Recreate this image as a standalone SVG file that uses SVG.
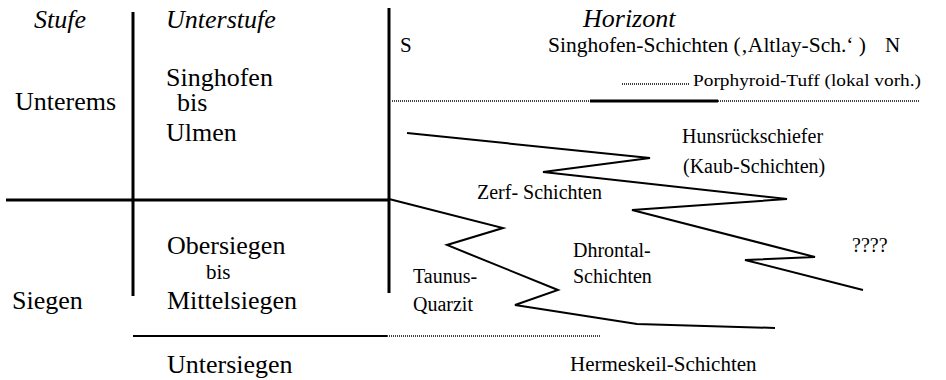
<svg xmlns="http://www.w3.org/2000/svg" width="946" height="380" viewBox="0 0 946 380">
<style>
text{font-family:"Liberation Serif","Times New Roman",serif;fill:#000}
.big{font-size:26px}
.it{font-size:26px;font-style:italic}
.mid{font-size:20px}
.hdr{font-size:21px}
.sm{font-size:16px}
.rule{stroke:#000;fill:none}
.thick{stroke-width:3}
.solid{stroke-width:2}
.dot{stroke-width:1.5;stroke-dasharray:1 1}
.zig{stroke:#000;stroke-width:2;fill:none;stroke-linejoin:miter}
</style>
<rect width="946" height="380" fill="#fff"/>
<g id="grid">
<line class="rule thick" x1="133" y1="12" x2="133" y2="296"/>
<line class="rule thick" x1="389" y1="8" x2="389" y2="293"/>
<line class="rule thick" x1="6" y1="200" x2="389" y2="200"/>
<line class="rule dot" x1="392" y1="101" x2="920" y2="101"/>
<line class="rule" stroke-width="3" x1="590" y1="101" x2="718" y2="101"/>
<line class="rule dot" x1="622" y1="84" x2="690" y2="84"/>
<line class="rule solid" x1="133" y1="336" x2="387" y2="336"/>
<line class="rule dot" x1="387" y1="336" x2="600" y2="336"/>
</g>
<g id="connectors">
<polyline class="zig" points="407,133 650,158 543,172 787,199 632,210 815,257 745,260 863,290"/>
<polyline class="zig" points="389,199 503,228 447,245 558,290 515,305 637,324 775,328"/>
</g>
<g id="headers">
<text class="it" x="34" y="28">Stufe</text>
<text class="it" x="166" y="28">Unterstufe</text>
<text class="it" x="583" y="27">Horizont</text>
</g>
<g id="stufe">
<text class="big" x="15" y="110">Unterems</text>
<text class="big" x="12" y="309">Siegen</text>
</g>
<g id="unterstufe">
<text class="big" x="166" y="86">Singhofen</text>
<text class="big" x="177" y="111">bis</text>
<text class="big" x="166" y="141">Ulmen</text>
<text class="big" x="167" y="254">Obersiegen</text>
<text class="hdr" x="206" y="279">bis</text>
<text class="big" x="167" y="309">Mittelsiegen</text>
<text class="big" x="167" y="373">Untersiegen</text>
</g>
<g id="horizont">
<text class="hdr" x="400" y="52">S</text>
<text class="hdr" x="548" y="52" textLength="318" lengthAdjust="spacingAndGlyphs">Singhofen-Schichten (‚Altlay-Sch.‘ )</text>
<text class="hdr" x="885" y="52">N</text>
<text class="sm" x="693" y="86" textLength="228" lengthAdjust="spacingAndGlyphs">Porphyroid-Tuff (lokal vorh.)</text>
<text class="mid" x="682" y="143">Hunsrückschiefer</text>
<text class="mid" x="683" y="173">(Kaub-Schichten)</text>
<text class="mid" x="477" y="199">Zerf- Schichten</text>
<text class="mid" x="573" y="257">Dhrontal-</text>
<text class="mid" x="573" y="283">Schichten</text>
<text class="mid" x="413" y="283">Taunus-</text>
<text class="mid" x="413" y="311">Quarzit</text>
<text class="mid" x="852" y="252">????</text>
<text class="hdr" x="570" y="371">Hermeskeil-Schichten</text>
</g>
</svg>
